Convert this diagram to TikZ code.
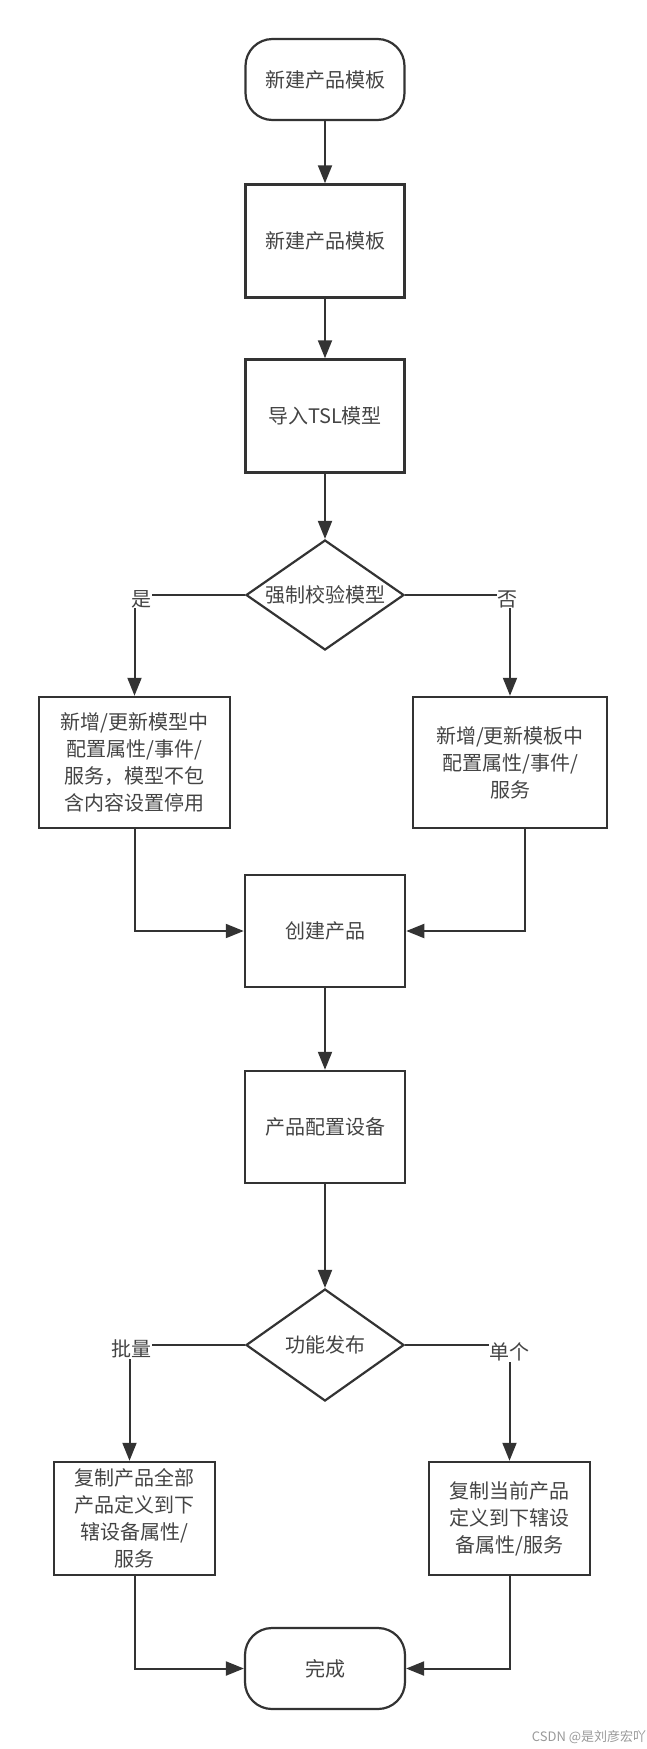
\documentclass[tikz,border=0pt]{standalone}
\usepackage{fontspec}
\newfontfamily\cjk{Noto Sans CJK SC}
\usetikzlibrary{arrows.meta,shapes.geometric}
\definecolor{linec}{HTML}{333333}
\definecolor{txtc}{HTML}{444444}

\begin{document}
\begin{tikzpicture}[
  x=1pt, y=-1pt,
  every node/.style={font=\cjk\fontsize{20}{27}\selectfont, text=txtc},
  term/.style={rectangle, rounded corners=27pt, draw=linec, line width=2.2pt, minimum width=159pt, minimum height=81pt},
  proc/.style={rectangle, draw=linec, line width=2.5pt, minimum width=159pt, minimum height=113pt, inner sep=2pt, align=center},
  dec/.style={diamond, draw=linec, line width=2.2pt, aspect=1.44, inner sep=0pt, minimum width=158pt, minimum height=110pt},
  lbl/.style={fill=white, inner sep=0.5pt},
  arr/.style={-{Triangle[length=18pt, width=14pt]}, draw=linec, line width=2pt},
  wmark/.style={font=\cjk\fontsize{13}{15}\selectfont, text=black!40},
]
\useasboundingbox (0,0) rectangle (646,1749);
\node[term] (start) at (325, 79.5) {新建产品模板};
\node[proc] (tpl) at (325, 241) {新建产品模板};
\node[proc] (tsl) at (325, 416) {导入TSL模型};
\node[dec]  (chk) at (325, 595) {强制校验模型};
\node[proc, minimum width=191pt, minimum height=131pt] (addm) at (134.5, 762.5) {新增/更新模型中\\配置属性/事件/\\服务，模型不包\\含内容设置停用};
\node[proc, minimum width=194pt, minimum height=131pt] (addt) at (510, 762.5) {新增/更新模板中\\配置属性/事件/\\服务};
\node[proc, minimum width=160pt, minimum height=112pt] (prod) at (325, 931) {创建产品};
\node[proc, minimum width=160pt, minimum height=112pt] (cfg) at (325, 1127) {产品配置设备};
\node[dec, minimum height=112pt] (pub) at (325, 1345) {功能发布};
\node[proc, minimum width=161pt] (cpall) at (134.5, 1518.5) {复制产品全部\\产品定义到下\\辖设备属性/\\服务};
\node[proc, minimum width=161pt] (cpone) at (509.5, 1518.5) {复制当前产品\\定义到下辖设\\备属性/服务};
\node[term, minimum width=160pt] (done) at (325, 1668.5) {完成};
\node[wmark] (wm) at (589, 1737) {CSDN @是刘彦宏吖};
\coordinate (addtout) at ([xshift=15pt]addt.south);
\coordinate (cpallin) at ([xshift=-5pt]cpall.north);
\draw[arr] (start) -- (tpl);
\draw[arr] (tpl) -- (tsl);
\draw[arr] (tsl) -- (chk);
\draw[arr] (chk.west) -| node[lbl, pos=0.5, xshift=7pt, yshift=-4pt] {是} (addm.north);
\draw[arr] (chk.east) -| node[lbl, pos=0.5, xshift=-3pt, yshift=-4pt] {否} (addt.north);
\draw[arr] (addm.south) |- (prod.west);
\draw[arr] (addtout) |- (prod.east);
\draw[arr] (prod) -- (cfg);
\draw[arr] (cfg) -- (pub);
\draw[arr] (pub.west) -| node[lbl, pos=0.5, xshift=2pt, yshift=-4pt] {批量} (cpallin);
\draw[arr] (pub.east) -| node[lbl, pos=0.5, yshift=-7pt] {单个} (cpone.north);
\draw[arr] (cpall.south) |- (done.west);
\draw[arr] (cpone.south) |- (done.east);
\end{tikzpicture}
\end{document}
